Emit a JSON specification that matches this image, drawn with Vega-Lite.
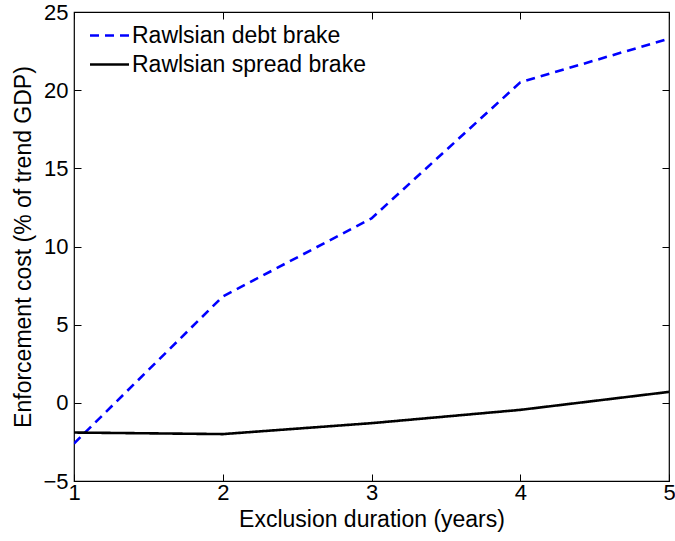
{
  "$schema": "https://vega.github.io/schema/vega-lite/v6.json",
  "width": 595,
  "height": 469,
  "autosize": "none",
  "padding": {"left": 74, "top": 12, "right": 6, "bottom": 60},
  "background": "white",
  "config": {
    "font": "Liberation Sans",
    "view": {"stroke": "black", "strokeWidth": 1.2},
    "axis": {
      "grid": false,
      "domain": false,
      "tickColor": "black",
      "tickSize": -7,
      "tickWidth": 1,
      "labelColor": "black",
      "labelFont": "Liberation Sans",
      "labelFontSize": 22,
      "titleFont": "Liberation Sans",
      "titleFontSize": 23,
      "titleFontWeight": "normal",
      "titleColor": "black",
      "labelOverlap": false,
      "labelFlush": false,
      "labelBound": false
    }
  },
  "data": {
    "values": [
      {"x": 1, "y": -2.6, "series": "Rawlsian debt brake"},
      {"x": 2, "y": 6.8, "series": "Rawlsian debt brake"},
      {"x": 3, "y": 11.8, "series": "Rawlsian debt brake"},
      {"x": 4, "y": 20.5, "series": "Rawlsian debt brake"},
      {"x": 5, "y": 23.3, "series": "Rawlsian debt brake"},
      {"x": 1, "y": -1.9, "series": "Rawlsian spread brake"},
      {"x": 2, "y": -2.0, "series": "Rawlsian spread brake"},
      {"x": 3, "y": -1.3, "series": "Rawlsian spread brake"},
      {"x": 4, "y": -0.45, "series": "Rawlsian spread brake"},
      {"x": 5, "y": 0.7, "series": "Rawlsian spread brake"}
    ]
  },
  "layer": [
    {
      "mark": {"type": "line", "strokeWidth": 2.6, "clip": true},
      "encoding": {
        "x": {
          "field": "x", "type": "quantitative",
          "scale": {"domain": [1, 5], "nice": false, "zero": false},
          "axis": {"orient": "bottom", "values": [1, 2, 3, 4, 5], "title": "Exclusion duration (years)", "labelPadding": 8, "titlePadding": 5, "format": "d"}
        },
        "y": {
          "field": "y", "type": "quantitative",
          "scale": {"domain": [-5, 25], "nice": false, "zero": false},
          "axis": {"orient": "left", "values": [-5, 0, 5, 10, 15, 20, 25], "title": "Enforcement cost (% of trend GDP)", "labelPadding": 13, "titlePadding": 7, "format": "d"}
        },
        "color": {
          "field": "series", "type": "nominal",
          "scale": {"domain": ["Rawlsian debt brake", "Rawlsian spread brake"], "range": ["#0000ff", "#000000"]},
          "legend": {
            "title": null,
            "orient": "none",
            "legendX": 24,
            "legendY": 12,
            "symbolType": "M-2,0H2",
            "symbolSize": 380,
            "symbolStrokeWidth": 2.6,
            "labelFontSize": 23,
            "labelFont": "Liberation Sans",
            "labelColor": "black",
            "labelLimit": 500,
            "rowPadding": 5,
            "labelOffset": 11
          }
        },
        "strokeDash": {
          "field": "series", "type": "nominal",
          "scale": {"domain": ["Rawlsian debt brake", "Rawlsian spread brake"], "range": [[9, 6], [1, 0]]},
          "legend": null
        }
      }
    },
    {
      "mark": {"type": "line", "opacity": 0},
      "encoding": {
        "x": {
          "field": "x", "type": "quantitative",
          "axis": {"orient": "top", "values": [1, 2, 3, 4, 5], "labels": false, "title": null}
        },
        "y": {
          "field": "y", "type": "quantitative",
          "axis": {"orient": "right", "values": [-5, 0, 5, 10, 15, 20, 25], "labels": false, "title": null}
        },
        "detail": {"field": "series"}
      }
    }
  ],
  "resolve": {"axis": {"x": "independent", "y": "independent"}}
}
